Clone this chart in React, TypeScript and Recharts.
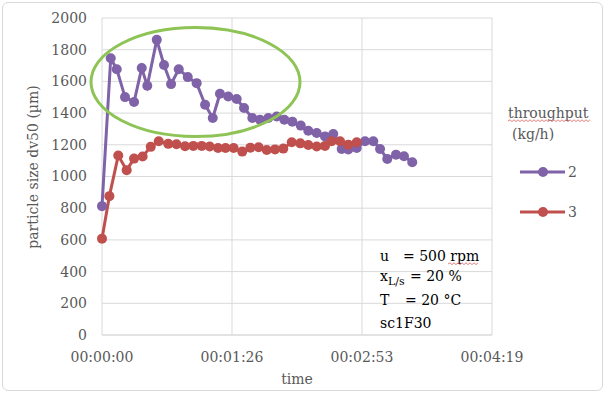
import React from 'react';
import { LineChart, Line, XAxis, YAxis, CartesianGrid } from 'recharts';

// throughput 2 kg/h (seconds, dv50 in µm)
const time2 = [0, 5.8, 9.8, 15.3, 21.3, 26.4, 30.1, 36.4, 41.2, 45.9, 51.0, 57.0, 62.9, 68.5, 73.6, 78.4, 83.9, 89.5, 94.4, 99.9, 105.0, 110.5, 116.1, 121.2, 126.5, 132.1, 137.1, 142.7, 148.2, 153.7, 159.3, 163.7, 169.3, 174.8, 180.3, 184.8, 189.6, 195.4, 200.7, 206.2];
const size2 = [813, 1746, 1677, 1501, 1470, 1684, 1572, 1862, 1704, 1583, 1677, 1627, 1589, 1453, 1369, 1522, 1505, 1489, 1432, 1369, 1358, 1369, 1379, 1358, 1346, 1321, 1289, 1275, 1253, 1268, 1174, 1170, 1180, 1222, 1222, 1174, 1111, 1138, 1128, 1090];

// throughput 3 kg/h
const time3 = [0, 4.9, 10.8, 16.4, 21.3, 27.0, 32.4, 37.7, 44.0, 49.5, 55.2, 60.7, 66.3, 71.6, 77.1, 82.1, 87.5, 93.2, 98.6, 104.1, 109.5, 115.0, 120.5, 126.1, 131.8, 137.1, 142.7, 148.2, 152.6, 158.2, 163.7, 169.3];
const size3 = [608, 876, 1132, 1040, 1113, 1126, 1187, 1222, 1206, 1204, 1191, 1193, 1193, 1189, 1180, 1180, 1180, 1157, 1182, 1185, 1167, 1171, 1176, 1216, 1209, 1199, 1189, 1193, 1222, 1222, 1201, 1216];

const xTicks = [0, 86.4, 172.8, 259.2];
const yTicks = [0, 200, 400, 600, 800, 1000, 1200, 1400, 1600, 1800, 2000];

const PURPLE = '#7F62A8';
const RED = '#C0504D';
const GREEN = '#8EC455';
const GRID = '#d9d9d9';
const TEXT = '#595959';
const FONT = 'DejaVu Serif';

const data2 = time2.map((t, i) => ({ t, size: size2[i] }));
const data3 = time3.map((t, i) => ({ t, size: size3[i] }));

const pad = (n: number) => String(n).padStart(2, '0');
const fmtTime = (v: number) => {
  const s = Math.round(v);
  return `${pad(Math.floor(s / 3600))}:${pad(Math.floor((s % 3600) / 60))}:${pad(s % 60)}`;
};

// spell-check squiggle under a word
const squiggle = (x1: number, x2: number, y: number) => {
  let d = `M${x1},${y}`;
  for (let x = x1, up = true; x < x2; x += 2, up = !up) d += ` L${x + 2},${up ? y - 1.2 : y + 0.6}`;
  return <path d={d} stroke="#e07070" strokeWidth={0.9} fill="none" />;
};

export default function App() {
  const tickStyle = { fill: TEXT, fontSize: 14, fontFamily: FONT };
  return (
    <div style={{ position: 'absolute', left: 0, top: 0, width: 605, height: 394, background: '#fff', fontFamily: FONT }}>
      <div style={{ position: 'absolute', left: 2, top: 2, width: 599, height: 387, border: `1px solid ${GRID}`, borderRadius: 6 }} />
      <LineChart width={605} height={394} margin={{ top: 18, right: 113, left: 0, bottom: 0 }}>
        <CartesianGrid stroke={GRID} strokeWidth={1} />
        <XAxis
          type="number"
          dataKey="t"
          domain={[0, 259.2]}
          ticks={xTicks}
          tickFormatter={fmtTime}
          height={59}
          tickLine={false}
          tickSize={0}
          tickMargin={17}
          axisLine={{ stroke: GRID }}
          tick={tickStyle}
          interval={0}
          label={{ value: 'time', position: 'insideBottom', offset: 10, fill: TEXT, fontSize: 14, fontFamily: FONT }}
        />
        <YAxis
          type="number"
          domain={[0, 2000]}
          ticks={yTicks}
          width={102}
          tickLine={false}
          tickSize={0}
          tickMargin={15}
          axisLine={false}
          tick={tickStyle}
          interval={0}
          label={() => (
            <text x={33} y={167} transform="rotate(-90 33 167)" textAnchor="middle" dominantBaseline="central" fill={TEXT} fontSize={14} fontFamily={FONT}>
              particle size dv50 (µm)
            </text>
          )}
        />
        <Line data={data2} dataKey="size" stroke={PURPLE} strokeWidth={3} dot={{ r: 5, fill: PURPLE, stroke: PURPLE, strokeWidth: 0 }} isAnimationActive={false} />
        <Line data={data3} dataKey="size" stroke={RED} strokeWidth={3} dot={{ r: 5, fill: RED, stroke: RED, strokeWidth: 0 }} isAnimationActive={false} />
      </LineChart>
      <svg width={605} height={394} style={{ position: 'absolute', left: 0, top: 0, pointerEvents: 'none' }} fontFamily={FONT} fontSize={14}>
        <ellipse cx={195.5} cy={82} rx={104.5} ry={54.5} fill="none" stroke={GREEN} strokeWidth={3} />

        <text x={508} y={118} fill={TEXT}>throughput</text>
        {squiggle(508, 590, 121)}
        <text x={512} y={139} fill={TEXT}>(kg/h)</text>
        <line x1={520} x2={565} y1={172} y2={172} stroke={PURPLE} strokeWidth={3} />
        <circle cx={543} cy={172} r={5} fill={PURPLE} />
        <text x={568} y={172} fill={TEXT} dominantBaseline="central">2</text>
        <line x1={520} x2={565} y1={212} y2={212} stroke={RED} strokeWidth={3} />
        <circle cx={543} cy={212} r={5} fill={RED} />
        <text x={568} y={212} fill={TEXT} dominantBaseline="central">3</text>

        <text x={380} y={261} fill="#000">u</text>
        <text x={403} y={261} fill="#000">= 500 rpm</text>
        {squiggle(448, 477, 264)}
        <text x={380} y={281} fill="#000">x<tspan fontSize={11} dy={4}>L/s</tspan></text>
        <text x={410} y={281} fill="#000">= 20 %</text>
        <text x={380} y={305} fill="#000">T</text>
        <text x={405} y={305} fill="#000">= 20 °C</text>
        <text x={380} y={328} fill="#000">sc1F30</text>
      </svg>
    </div>
  );
}
